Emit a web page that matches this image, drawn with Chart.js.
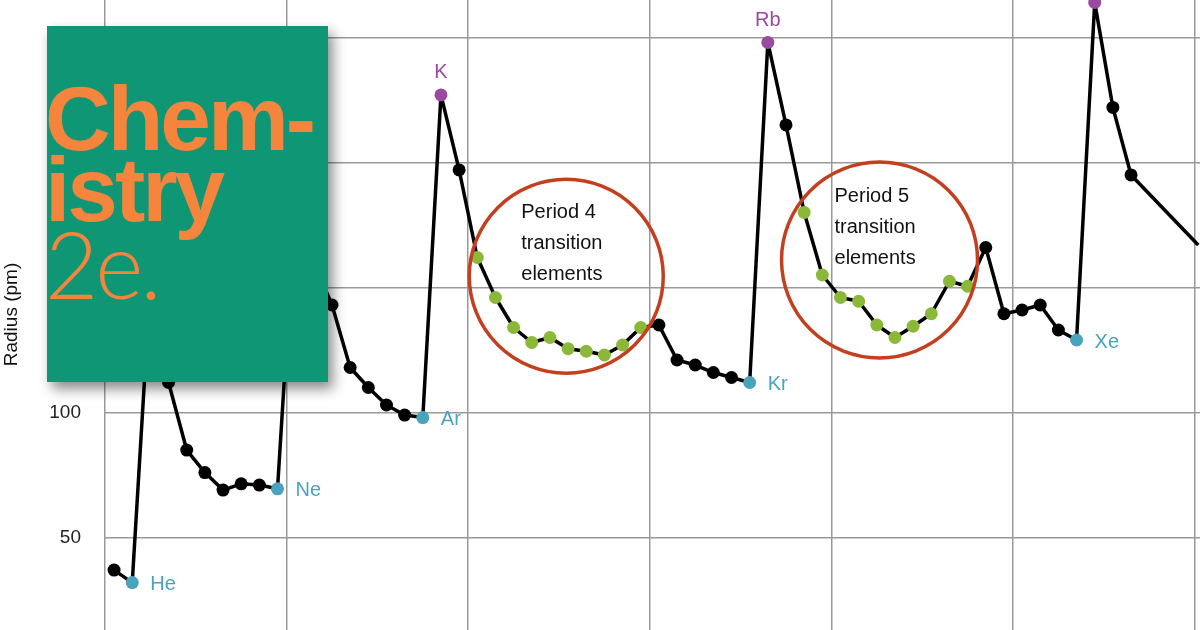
<!DOCTYPE html>
<html><head><meta charset="utf-8">
<script src="https://cdn.jsdelivr.net/npm/chart.js@4/dist/chart.umd.min.js"></script>
<style>
html,body{margin:0;padding:0;background:#fff;overflow:hidden;width:1200px;height:630px}
#wrap{position:absolute;left:0;top:-36px;width:1210px;height:701px}
#cover{position:absolute;left:47px;top:26px;width:281px;height:356px;background:#0f9674;box-shadow:5px 7px 12px rgba(0,0,0,.45);overflow:hidden;color:#f5843c;font-family:"Liberation Sans",Arial,sans-serif}
.t1{position:absolute;left:-2px;font-weight:bold;font-size:91px;letter-spacing:-3px;line-height:1}
.t2{position:absolute;left:-2px;font-family:Lato,sans-serif;font-weight:300;font-size:92px;letter-spacing:-3px;line-height:1}
</style></head><body>
<div id="wrap"><canvas id="c" width="1210" height="701"></canvas></div>
<div id="cover"><div class="t1" style="top:47px">Chem-</div><div class="t1" style="top:118px">istry</div><div class="t2" style="top:192px">2e.</div></div>
<script>
const atomicNumbers=[1,2,3,4,5,6,7,8,9,10,11,12,13,14,15,16,17,18,19,20,21,22,23,24,25,26,27,28,29,30,31,32,33,34,35,36,37,38,39,40,41,42,43,44,45,46,47,48,49,50,51,52,53,54,55,56,57,60.7];
const symbols=["H","He","Li","Be","B","C","N","O","F","Ne","Na","Mg","Al","Si","P","S","Cl","Ar","K","Ca","Sc","Ti","V","Cr","Mn","Fe","Co","Ni","Cu","Zn","Ga","Ge","As","Se","Br","Kr","Rb","Sr","Y","Zr","Nb","Mo","Tc","Ru","Rh","Pd","Ag","Cd","In","Sn","Sb","Te","I","Xe","Cs","Ba","La","Hf"];
const radii=[37,32,152,112,85,76,69,71.5,71,69.5,186,160,143,118,110,103,99,98,227,197,162,146,134,128,130,125.5,124.5,123,127,134,135,121,119,116,114,112,248,215,180,155,146,144.5,135,130,134.5,139.5,152.5,150.5,166,139.5,141,143,133,129,264,222,195,167];
const kind=["n","g","n","n","n","n","n","n","n","g","n","n","n","n","n","n","n","g","a","n","t","t","t","t","t","t","t","t","t","t","n","n","n","n","n","g","a","n","t","t","t","t","t","t","t","t","t","t","n","n","n","n","n","g","a","n","n","x"];
const labeled=["He","Ne","Ar","Kr","Xe","K","Rb"];
const yTicks=[50,100,150,200,250];
const circles=[{z:25.9,r:154.5,rad:97},{z:43.15,r:161,rad:98}];
const circleText=[["Period 4","transition","elements"],["Period 5","transition","elements"]];
const colorOf={n:"#000",g:"#4aa3bd",a:"#9a4aa0",t:"#8cb83a",x:"rgba(0,0,0,0)"};
const pts=atomicNumbers.map((z,i)=>({x:z,y:radii[i]}));
const overlay={id:"ov",afterDatasetsDraw(ch){
 const c=ch.ctx,xs=ch.scales.x,ys=ch.scales.y;
 c.save();
 circles.forEach((o,k)=>{c.beginPath();c.strokeStyle="#c2401f";c.lineWidth=3.5;c.arc(xs.getPixelForValue(o.z),ys.getPixelForValue(o.r),o.rad,0,Math.PI*2);c.stroke();
  c.fillStyle="#111";c.font="20px 'Liberation Sans',Arial";c.textAlign="left";
  const bx=xs.getPixelForValue(o.z)-45,by=ys.getPixelForValue(o.r)-58;
  circleText[k].forEach((t,j)=>c.fillText(t,bx,by+j*31));});
 c.font="20px 'Liberation Sans',Arial";
 symbols.forEach((s,i)=>{if(!labeled.includes(s))return;
  const px=xs.getPixelForValue(atomicNumbers[i]),py=ys.getPixelForValue(radii[i]);
  c.fillStyle=colorOf[kind[i]];
  if(kind[i]==="a"){c.textAlign="center";c.textBaseline="bottom";c.fillText(s,px,py-12);}
  else{c.textAlign="left";c.textBaseline="middle";c.fillText(s,px+18,py+2);}
 });
 c.restore();}};
new Chart(document.getElementById("c"),{type:"line",
 data:{datasets:[{data:pts,borderColor:"#000",borderWidth:3.5,tension:0,borderJoinStyle:"round",
  pointRadius:6.5,pointBorderWidth:0,pointBackgroundColor:kind.map(k=>colorOf[k]),pointBorderColor:kind.map(k=>colorOf[k])}]},
 options:{responsive:false,animation:false,clip:false,
  layout:{padding:0},
  plugins:{legend:{display:false},tooltip:{enabled:false}},
  scales:{
   x:{type:"linear",min:0.5,max:60.99,
    afterBuildTicks(a){a.ticks=[0.5,10.5,20.5,30.5,40.5,50.5,60.5].map(v=>({value:v}));},
    ticks:{display:false},grid:{color:"#999",lineWidth:1.5,drawTicks:false},border:{display:false}},
   y:{min:13.2,max:265.2,afterBuildTicks(a){a.ticks=yTicks.map(v=>({value:v}));},
    afterFit(a){a.width=105;},
    ticks:{color:"#222",font:{size:19,family:"'Liberation Sans',Arial"},padding:24},
    title:{display:true,text:"Radius (pm)",color:"#111",font:{size:19,family:"'Liberation Sans',Arial"},padding:0},
    grid:{color:"#999",lineWidth:1.5,drawTicks:false},border:{display:false}}
  }},
 plugins:[overlay]});
</script></body></html>
